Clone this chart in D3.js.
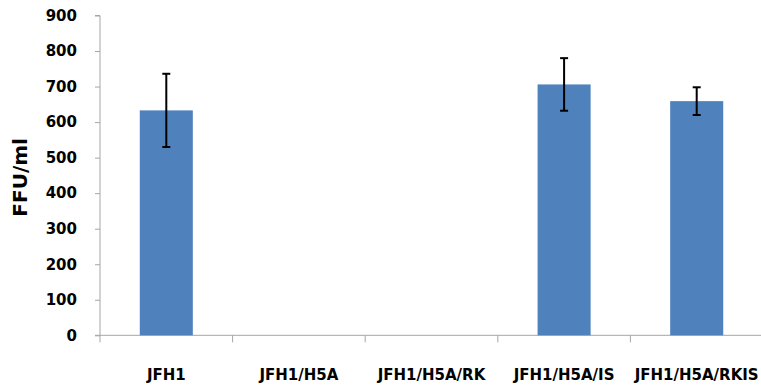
<!DOCTYPE html>
<html>
<head>
<meta charset="utf-8">
<script src="https://cdn.jsdelivr.net/npm/d3@7"></script>
<style>
  html, body { margin: 0; padding: 0; background: #fff; }
  svg text { font-family: "DejaVu Sans", "Noto Sans", sans-serif; font-weight: bold; fill: #000; }
</style>
</head>
<body>
<svg id="chart" width="761" height="389"></svg>
<script>
// Focus-forming units per ml for each construct, with error (± SD)
const categories = ["JFH1", "JFH1/H5A", "JFH1/H5A/RK", "JFH1/H5A/IS", "JFH1/H5A/RKIS"];
const values = [633, 0, 0, 706, 659];
const errors = [103, 0, 0, 74, 39];
const yTicks = [0, 100, 200, 300, 400, 500, 600, 700, 800, 900];

const svg = d3.select("#chart");
const W = 761, H = 389;
const plotLeft = 100, plotTop = 15.5, plotBottom = 335.3;
const bandW = 132.6;

const x = d3.scaleBand()
  .domain(categories)
  .range([plotLeft, plotLeft + bandW * categories.length])
  .paddingInner(0.6)
  .paddingOuter(0.3);

const y = d3.scaleLinear().domain([0, 900]).range([plotBottom, plotTop]);

const axisColor = "#a6a6a6";
const fontStack = "'DejaVu Sans', sans-serif";

// Y axis
const yAxis = svg.append("g")
  .attr("transform", `translate(${plotLeft},0)`)
  .call(d3.axisLeft(y).tickValues(yTicks).tickSize(5).tickPadding(18));
yAxis.select(".domain").attr("stroke", axisColor).attr("d", `M-5,${y(900)}H0V${plotBottom}`);
yAxis.selectAll(".tick line").attr("stroke", axisColor);
yAxis.selectAll(".tick text").attr("font-size", 15).attr("fill", "#000")
  .style("font-family", fontStack).style("font-weight", "bold");

// X axis: ticks at band boundaries
const xAxisG = svg.append("g");
xAxisG.append("line")
  .attr("x1", plotLeft - 5).attr("x2", W).attr("y1", plotBottom).attr("y2", plotBottom)
  .attr("stroke", axisColor);
d3.range(categories.length + 1).forEach(i => {
  const xi = plotLeft + bandW * i;
  xAxisG.append("line")
    .attr("x1", xi).attr("x2", xi).attr("y1", plotBottom).attr("y2", plotBottom + 7)
    .attr("stroke", axisColor);
});

// Category labels
svg.append("g").selectAll("text")
  .data(categories)
  .join("text")
  .attr("font-size", 15)
  .attr("text-anchor", "middle")
  .attr("y", 380)
  .attr("x", d => x(d) + x.bandwidth() / 2)
  .text(d => d);

const rows = categories.map((c, i) => ({ c, v: values[i], e: errors[i] }));

// Bars
svg.append("g").selectAll("rect")
  .data(rows.filter(d => d.v > 0))
  .join("rect")
  .attr("x", d => x(d.c))
  .attr("width", x.bandwidth())
  .attr("y", d => y(d.v))
  .attr("height", d => plotBottom - y(d.v))
  .attr("fill", "#4f81bd");

// Error bars
const eb = svg.append("g")
  .selectAll("g")
  .data(rows.filter(d => d.e > 0))
  .join("g")
  .attr("stroke", "#000")
  .attr("stroke-width", 2);
const cxOf = d => x(d.c) + x.bandwidth() / 2;
eb.append("line")
  .attr("x1", cxOf).attr("x2", cxOf)
  .attr("y1", d => y(d.v + d.e))
  .attr("y2", d => y(d.v - d.e));
[1, -1].forEach(s => {
  eb.append("line")
    .attr("x1", d => cxOf(d) - 4)
    .attr("x2", d => cxOf(d) + 4)
    .attr("y1", d => y(d.v + s * d.e))
    .attr("y2", d => y(d.v + s * d.e));
});

// Y axis title
svg.append("text")
  .attr("transform", `translate(27,${(plotTop + plotBottom) / 2 + 2}) rotate(-90)`)
  .attr("text-anchor", "middle")
  .attr("font-size", 20)
  .text("FFU/ml");
</script>
</body>
</html>
